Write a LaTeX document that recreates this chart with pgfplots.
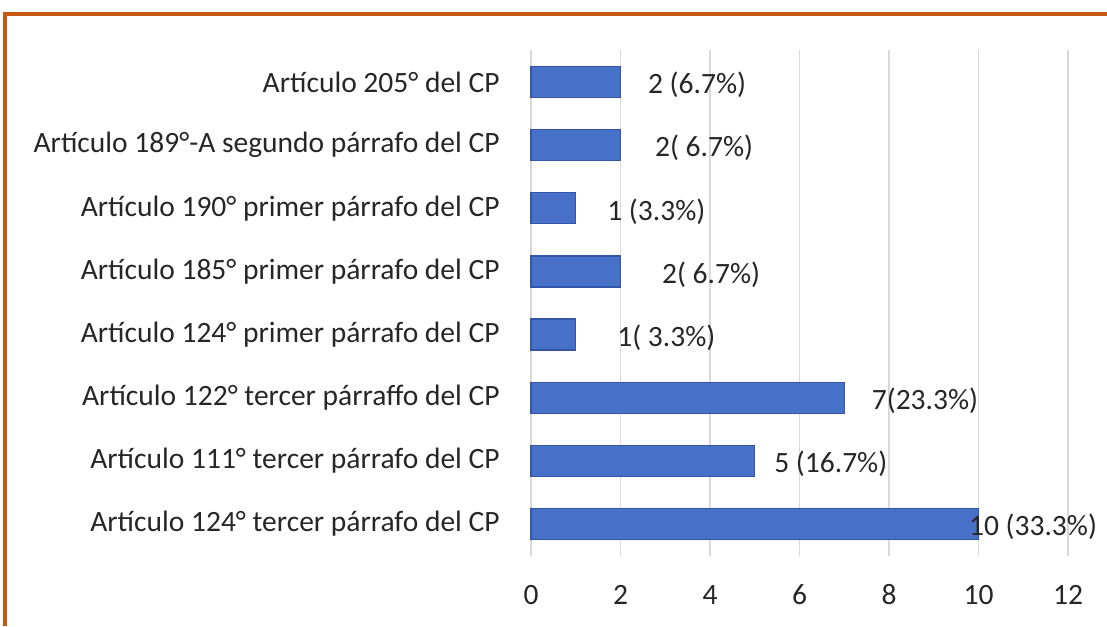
\documentclass[border=0pt]{standalone}
\usepackage{fontspec}
\setmainfont{Carlito}
\usepackage{pgfplots}
\pgfplotsset{compat=1.18}
\definecolor{orng}{HTML}{C65911}
\definecolor{barfill}{HTML}{4771C8}
\definecolor{baredge}{HTML}{3356A8}
\definecolor{gridc}{HTML}{D9D9D9}
\definecolor{txt}{HTML}{262626}
\begin{document}
\fontsize{14.75}{17}\selectfont
\begin{tikzpicture}
\path[use as bounding box] (0,0) rectangle (553.5pt,313pt);
\draw[orng, line width=2pt] (2.5pt,0) -- (2.5pt,306.2pt) -- (553.5pt,306.2pt);
\begin{axis}[
  at={(265.5pt,35.2pt)}, anchor=south west,
  scale only axis, width=268.5pt, height=252.6pt,
  xmin=0, xmax=12, xtick={0,2,...,12},
  ymin=-0.5, ymax=7.5, ytick={0,...,7},
  yticklabels={
    Artículo 124° tercer párrafo del CP,
    Artículo 111° tercer párrafo del CP,
    Artículo 122° tercer párraffo del CP,
    Artículo 124° primer párrafo del CP,
    Artículo 185° primer párrafo del CP,
    Artículo 190° primer párrafo del CP,
    Artículo 189°-A segundo párrafo del CP,
    Artículo 205° del CP},
  xmajorgrids, grid style={draw=gridc, line width=0.7pt},
  axis line style={draw=none},
  major tick length=0pt,
  xbar, bar width=15.5pt,
  yticklabel style={inner sep=0pt, xshift=-15.5pt, text=txt},
  xticklabel style={anchor=center, inner sep=0pt, yshift=-19.7pt, text=txt},
  /pgf/number format/assume math mode=true,
  nodes near coords, point meta=explicit symbolic,
  every node near coord/.append style={anchor=west, inner sep=0pt, yshift=-1.5pt, text=txt},
  clip=false,
]
\addplot[draw=baredge, line width=0.6pt, fill=barfill]
coordinates {
  (10,0) [\hspace*{-5pt}10 (33.3\%)]
  (5,1)  [\hspace*{9.5pt}5 (16.7\%)]
  (7,2)  [\hspace*{13.5pt}7(23.3\%)]
  (1,3)  [\hspace*{20.5pt}1( 3.3\%)]
  (2,4)  [\hspace*{20.5pt}2( 6.7\%)]
  (1,5)  [\hspace*{15.5pt}1 (3.3\%)]
  (2,6)  [\hspace*{17pt}2( 6.7\%)]
  (2,7)  [\hspace*{13.5pt}2 (6.7\%)]
};
\end{axis}
\end{tikzpicture}
\end{document}
